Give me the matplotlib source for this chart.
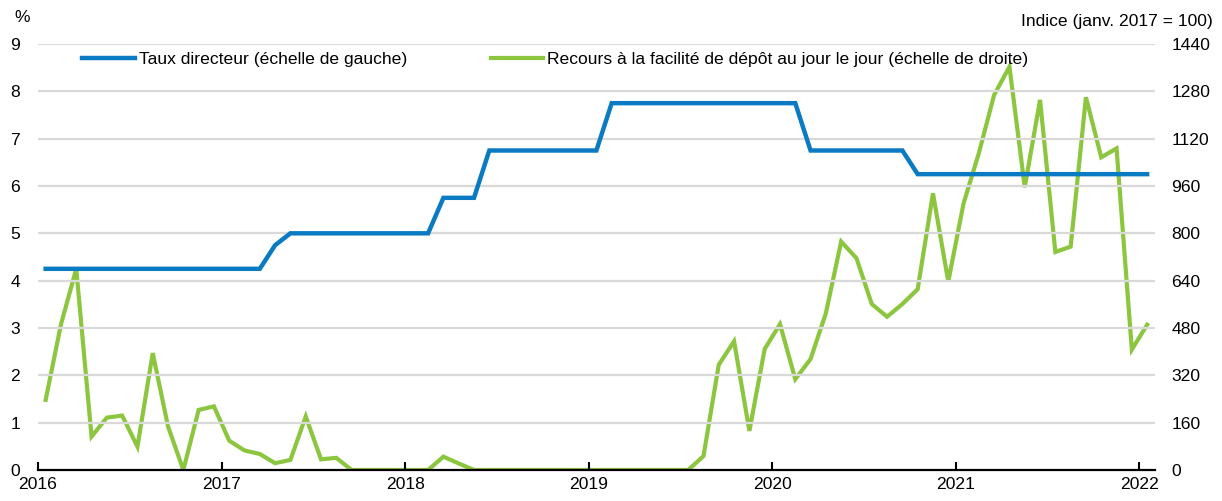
import numpy as np
import matplotlib
matplotlib.use("Agg")
import matplotlib.pyplot as plt

plt.rcParams['font.family'] = ['Liberation Sans', 'DejaVu Sans']

# ======================
# Données (mensuelles, janv. 2016 - janv. 2022)
# ======================
start_year = 2016
n_months = 73

taux_directeur = ([4.25] * 15 + [4.75] + [5.0] * 10 + [5.75] * 3 + [6.75] * 8
                  + [7.75] * 13 + [6.75] * 7 + [6.25] * 16)

recours_depot = [237, 492, 680, 113, 177, 184, 79, 395, 147, 0, 203, 215,
                 99, 66, 54, 23, 34, 181, 36, 41, 0, 0, 0, 0,
                 0, 0, 45, 22, 0, 0, 0, 0, 0, 0, 0, 0,
                 0, 0, 0, 0, 0, 0, 0, 47, 356, 435, 132, 409,
                 493, 307, 375, 530, 772, 716, 561, 518, 561, 611, 935, 637,
                 901, 1071, 1268, 1363, 956, 1251, 737, 755, 1260, 1057, 1087, 407,
                 491]

annees = list(range(2016, 2023))
ticks_gauche = list(range(0, 10))
ticks_droite = list(range(0, 1441, 160))

label_bleu = "Taux directeur (échelle de gauche)"
label_vert = "Recours à la facilité de dépôt au jour le jour (échelle de droite)"

BLEU = '#0A7BC2'
VERT = '#8CC63F'
GRILLE = '#D9D9D9'

# positions au milieu du mois
x = start_year + (np.arange(n_months) + 0.5) / 12

# ======================
# Figure
# ======================
fig = plt.figure(figsize=(12.22, 5.01), dpi=100)
ax = fig.add_axes([0.0311, 0.0619, 0.9139, 0.8503])
ax2 = ax.twinx()

ax.set_xlim(start_year, start_year + n_months / 12)
ax.set_ylim(0, 9)
ax2.set_ylim(0, 1440)

for v in ticks_gauche[1:]:
    ax.axhline(v, color=GRILLE, lw=1.6, zorder=0)

l1, = ax.plot(x, taux_directeur, color=BLEU, lw=3.2, solid_joinstyle='miter', zorder=3)
l2, = ax2.plot(x, recours_depot, color=VERT, lw=3.0, solid_joinstyle='miter', zorder=3)
ax.set_zorder(ax2.get_zorder() + 1)
ax.patch.set_visible(False)

for a in (ax, ax2):
    for s in ('top', 'left', 'right', 'bottom'):
        a.spines[s].set_visible(False)
ax.spines['bottom'].set_visible(True)
ax.spines['bottom'].set_linewidth(1.6)
ax.spines['bottom'].set_color('black')

fs = 12.6
ax.set_xticks(annees)
ax.set_xticklabels([str(a) for a in annees], fontsize=fs)
ax.tick_params(axis='x', direction='in', length=6, width=1.5, pad=5, colors='black')
ax.set_yticks(ticks_gauche)
ax.set_yticklabels([str(v) for v in ticks_gauche], fontsize=fs)
ax.tick_params(axis='y', length=0, pad=13)
ax2.set_yticks(ticks_droite)
ax2.set_yticklabels([str(v) for v in ticks_droite], fontsize=fs)
ax2.tick_params(axis='y', length=0, pad=12)

fig.text(0.012, 0.966, "%", fontsize=fs, ha='left', va='center')
fig.text(0.9926, 0.958, "Indice (janv. 2017 = 100)", fontsize=fs, ha='right', va='center')

ax.legend([l1, l2], [label_bleu, label_vert], ncol=2, loc='upper left',
          bbox_to_anchor=(0.0253, 1.018), frameon=False, fontsize=fs,
          handlelength=3.0, handletextpad=0.23, columnspacing=4.8)

fig.savefig("out.png", dpi=100)
